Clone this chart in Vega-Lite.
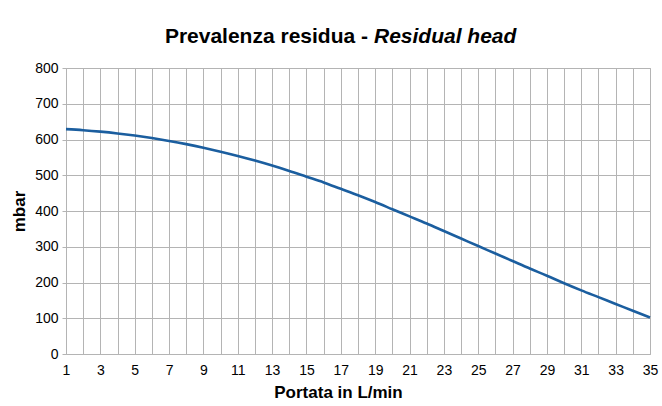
{
  "$schema": "https://vega.github.io/schema/vega-lite/v6.json",
  "width": 584,
  "height": 286,
  "autosize": {"type": "none"},
  "padding": {"left": 66, "top": 68, "right": 12, "bottom": 52},
  "background": "white",
  "title": {
    "text": "Prevalenza residua -",
    "subtitle": "Residual head",
    "anchor": "start",
    "frame": "group",
    "dx": 308,
    "offset": 14,
    "font": "Liberation Sans",
    "fontSize": 21,
    "fontWeight": "bold",
    "color": "#000000",
    "subtitleFont": "Liberation Sans",
    "subtitleFontSize": 21,
    "subtitleFontWeight": "bold",
    "subtitleFontStyle": "italic",
    "subtitleColor": "#000000",
    "subtitlePadding": -21,
    "encoding": {"align": {"value": "right"}, "dx": {"value": 302}}
  },
  "data": {
    "values": [
      {"portata": 1, "mbar": 629}, {"portata": 2, "mbar": 626}, {"portata": 3, "mbar": 622},
      {"portata": 4, "mbar": 617}, {"portata": 5, "mbar": 611}, {"portata": 6, "mbar": 604},
      {"portata": 7, "mbar": 596}, {"portata": 8, "mbar": 587}, {"portata": 9, "mbar": 577},
      {"portata": 10, "mbar": 566}, {"portata": 11, "mbar": 554}, {"portata": 12, "mbar": 541},
      {"portata": 13, "mbar": 527}, {"portata": 14, "mbar": 512}, {"portata": 15, "mbar": 496},
      {"portata": 16, "mbar": 480}, {"portata": 17, "mbar": 462}, {"portata": 18, "mbar": 444},
      {"portata": 19, "mbar": 425}, {"portata": 20, "mbar": 405}, {"portata": 21, "mbar": 385},
      {"portata": 22, "mbar": 365}, {"portata": 23, "mbar": 344}, {"portata": 24, "mbar": 323},
      {"portata": 25, "mbar": 302}, {"portata": 26, "mbar": 281}, {"portata": 27, "mbar": 260},
      {"portata": 28, "mbar": 239}, {"portata": 29, "mbar": 219}, {"portata": 30, "mbar": 198},
      {"portata": 31, "mbar": 178}, {"portata": 32, "mbar": 159}, {"portata": 33, "mbar": 140},
      {"portata": 34, "mbar": 121}, {"portata": 35, "mbar": 102}
    ]
  },
  "mark": {"type": "line", "interpolate": "monotone", "color": "#1b5e9f", "strokeWidth": 2.6},
  "encoding": {
    "x": {
      "field": "portata",
      "type": "quantitative",
      "scale": {"domain": [1, 35], "nice": false, "zero": false},
      "axis": {
        "title": "Portata in L/min",
        "values": [1,2,3,4,5,6,7,8,9,10,11,12,13,14,15,16,17,18,19,20,21,22,23,24,25,26,27,28,29,30,31,32,33,34,35],
        "labelExpr": "datum.value % 2 == 1 ? datum.label : ''",
        "labelOverlap": false,
        "labelFlush": false,
        "ticks": false,
        "domain": false,
        "labelPadding": 9,
        "titleX": 272,
        "titleY": 43,
        "titleBaseline": "alphabetic",
        "titleAlign": "center"
      }
    },
    "y": {
      "field": "mbar",
      "type": "quantitative",
      "scale": {"domain": [0, 800], "nice": false},
      "axis": {
        "title": "mbar",
        "values": [0, 100, 200, 300, 400, 500, 600, 700, 800],
        "domain": false,
        "ticks": true,
        "tickSize": 4,
        "tickColor": "#b4b4b4",
        "labelPadding": 4,
        "titleX": -42,
        "titleY": 143,
        "titleAngle": 270,
        "titleBaseline": "alphabetic",
        "titleAlign": "center"
      }
    }
  },
  "config": {
    "view": {"stroke": "#b4b4b4", "strokeWidth": 1},
    "axis": {
      "grid": true,
      "gridColor": "#b4b4b4",
      "gridOpacity": 1,
      "gridWidth": 1,
      "labelFont": "Liberation Sans",
      "labelFontSize": 14,
      "labelColor": "#000000",
      "titleFont": "Liberation Sans",
      "titleFontSize": 17,
      "titleFontWeight": "bold",
      "titleColor": "#000000"
    }
  }
}
